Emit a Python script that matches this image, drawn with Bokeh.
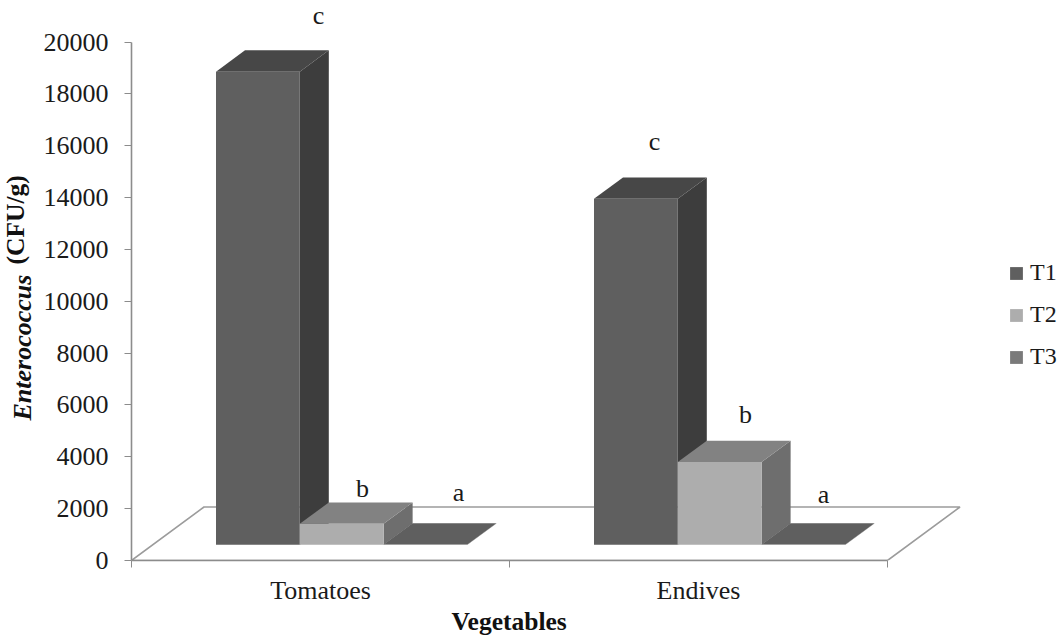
from bokeh.embed import file_html
from bokeh.resources import INLINE
from bokeh.plotting import figure
from bokeh.models import FixedTicker, Legend, LegendItem, Range1d, Title
from bokeh.core.properties import value

# ---- data ----
categories = ["Tomatoes", "Endives"]
series_names = ["T1", "T2", "T3"]
t1 = [18250, 13350]
t2 = [810, 3190]
t3 = [10, 10]
y_ticks = [0, 2000, 4000, 6000, 8000, 10000, 12000, 14000, 16000, 18000, 20000]
letters = ["c", "b", "a", "c", "b", "a"]
letter_px_x = [318, 362, 458, 654, 745, 823]
letter_px_base = [15, 488, 492, 141, 414, 494]

# ---- geometry of the pseudo 3D view ----
PX_PER_CAT = 378.0
PX_PER_VAL = 518.5 / 20000.0
ZERO_PX = 560.0
LEFT_PX = 131.0
BASE = (ZERO_PX - 544.3) / PX_PER_VAL
DX = 29.0 / PX_PER_CAT
DY = 21.3 / PX_PER_VAL
BAR_W = 83.8 / PX_PER_CAT
BAR_START = (215.5 - LEFT_PX) / PX_PER_CAT
FLOOR_DX = 72.5 / PX_PER_CAT
FLOOR_DY = 53.5 / PX_PER_VAL

FONT = "Liberation Serif"
TEXT = "#1a1a1a"
AXIS = "#8c8c8c"

front_col = ["#5f5f5f", "#adadad", "#7a7a7a"]
top_col = ["#474747", "#828282", "#5f5f5f"]
side_col = ["#3d3d3d", "#6e6e6e", "#555555"]

W, H = 1059, 638
p = figure(width=W, height=H, output_backend="svg", toolbar_location=None,
           x_range=Range1d(0, (W - LEFT_PX) / PX_PER_CAT),
           y_range=Range1d(0, ZERO_PX / PX_PER_VAL),
           min_border_left=int(LEFT_PX), min_border_right=0, min_border_top=0,
           min_border_bottom=H - int(ZERO_PX))
p.outline_line_color = None
p.grid.visible = False
p.background_fill_color = "white"
p.border_fill_color = "white"

# floor
p.patch([0, FLOOR_DX, 2 + FLOOR_DX, 2], [0, FLOOR_DY, FLOOR_DY, 0],
        fill_color="white", line_color="#9c9c9c", line_width=1.6)

# bars
fronts = []
for s, vals in enumerate([t1, t2, t3]):
    for c, v in enumerate(vals):
        l = c + BAR_START + s * BAR_W
        r = l + BAR_W
        t = BASE + v
        p.patch([r, r + DX, r + DX, r], [BASE, BASE + DY, t + DY, t],
                fill_color=side_col[s], line_color=None)
        p.patch([l, l + DX, r + DX, r], [t, t + DY, t + DY, t],
                fill_color=top_col[s], line_color=None)
        q = p.quad(left=[l], right=[r], bottom=[BASE], top=[t],
                   fill_color=front_col[s], line_color=None)
        if c == 0:
            fronts.append(q)

# letters above bars
p.text([(x - LEFT_PX) / PX_PER_CAT for x in letter_px_x],
       [(ZERO_PX - y) / PX_PER_VAL for y in letter_px_base],
       text=letters, text_font=value(FONT), text_font_size="26px", text_color=TEXT,
       text_align="center", text_baseline="alphabetic")

# axes
xa = p.xaxis[0]
xa.ticker = FixedTicker(ticks=[0.5, 1.5], minor_ticks=[0, 1, 2])
xa.major_label_overrides = {0.5: categories[0], 1.5: categories[1]}
xa.bounds = (0, 2)
xa.major_tick_out = 0
xa.major_tick_in = 0
xa.minor_tick_out = 7
xa.minor_tick_in = 0
xa.minor_tick_line_color = AXIS
xa.axis_line_color = AXIS
xa.axis_line_width = 1.6
xa.major_label_text_font = FONT
xa.major_label_text_font_size = "26px"
xa.major_label_text_color = TEXT
xa.major_label_standoff = 8

ya = p.yaxis[0]
ya.ticker = FixedTicker(ticks=y_ticks, minor_ticks=[])
ya.bounds = (0, 20000)
ya.major_tick_out = 7
ya.major_tick_in = 0
ya.major_tick_line_color = AXIS
ya.axis_line_color = AXIS
ya.axis_line_width = 1.6
ya.major_label_text_font = FONT
ya.major_label_text_font_size = "26px"
ya.major_label_text_color = TEXT
ya.major_label_standoff = 16


def add_title(text, style, size, side, offset, standoff):
    try:
        t = Title(text=text, align="left", offset=offset, standoff=standoff,
                  text_font=FONT, text_font_size=size, text_font_style=style, text_color="#111111")
    except ValueError:
        t = Title(text=text, align="left", offset=offset, standoff=0,
                  text_font=FONT, text_font_size=size, text_font_style=style, text_color="#111111")
    p.add_layout(t, side)


add_title("Vegetables", "bold", "25.5px", "below", 510 - 59 - LEFT_PX, -5)
add_title("Enterococcus", "bold italic", "26px", "left", ZERO_PX - 420, 8)
add_title("(CFU/g)", "bold", "25.5px", "left", ZERO_PX - 264, -56)

legend = Legend(items=[LegendItem(label=n, renderers=[r]) for n, r in zip(series_names, fronts)],
                location=(877, 190), orientation="vertical", border_line_color=None,
                background_fill_alpha=0, padding=0, margin=0,
                glyph_width=16, glyph_height=16, label_standoff=6, spacing=15,
                label_text_font=FONT, label_text_font_size="24px", label_text_color=TEXT)
p.add_layout(legend, "center")

open("out.html", "w").write(file_html(p, INLINE))
